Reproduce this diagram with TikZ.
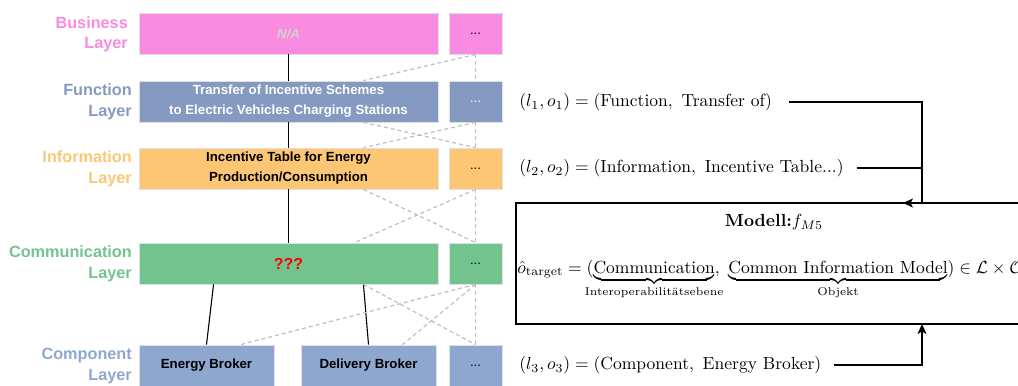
\documentclass[tikz,border=0pt]{standalone}
\usepackage{fontspec}
\newfontfamily\arialfont{Liberation Sans}
\usepackage{amsmath, amssymb, mathtools}
\usetikzlibrary{arrows.meta, positioning, calc}
\definecolor{buscolor}{RGB}{249,139,225}
\definecolor{funcolor}{RGB}{133,154,192}
\definecolor{infcolor}{RGB}{252,198,116}
\definecolor{comcolor}{RGB}{115,195,142}
\definecolor{cmpcolor}{RGB}{142,167,206}
\newcommand{\bracelabel}[1]{\mathclap{\text{\fontsize{6.4}{7}\selectfont #1}}}
\tikzset{
  lbl/.style    = {anchor=east, align=right, inner sep=0pt,
                   font=\arialfont\bfseries\fontsize{16.3}{20.5}\selectfont},
  lbox/.style   = {draw=black!12, line width=0.8bp, inner sep=0pt, minimum height=41bp,
                   align=center, font=\arialfont\bfseries\fontsize{13.3}{20}\selectfont},
  dbox/.style   = {lbox, minimum width=53bp, font=\arialfont\fontsize{13}{15}\selectfont},
  link/.style   = {line width=1.1bp, black},
  dashline/.style = {line width=1.2bp, black!25, dash pattern=on 4bp off 3bp},
  arrow/.style  = {->, >={Stealth[length=10bp, width=9bp, inset=2.5bp]}, line width=1.2bp},
  eq/.style     = {anchor=west, inner sep=0pt, scale=1.76, transform shape,
                   font=\fontsize{10}{12}\selectfont},
}
\begin{document}
\begin{tikzpicture}[x=1bp, y=-1bp]
  \useasboundingbox (0,0) rectangle (1018,385);
  % layer labels
  \node[lbl, buscolor] (busl) at (128,34.5) {Business\\Layer};
  \node[lbl, funcolor] (funl) at (132,102) {Function\\Layer};
  \node[lbl, infcolor] (infl) at (132,169) {Information\\Layer};
  \node[lbl, comcolor] (coml) at (132,264) {Communication\\Layer};
  \node[lbl, cmpcolor] (cmpl) at (132,366) {Component\\Layer};
  % use case boxes
  \node[lbox, fill=buscolor, minimum width=299bp, text=black!18, font=\arialfont\bfseries\itshape\fontsize{13.3}{20}\selectfont] (bus) at (288.5,33.5) {N/A};
  \node[lbox, fill=funcolor, minimum width=299bp, text=white] (fun) at (288.5,101.5) {Transfer of Incentive Schemes\\to Electric Vehicles Charging Stations};
  \node[lbox, fill=infcolor, minimum width=299bp] (inf) at (288.5,168.5) {Incentive Table for Energy\\Production/Consumption};
  \node[lbox, fill=comcolor, minimum width=299bp, text=red, font=\arialfont\bfseries\fontsize{16}{20}\selectfont] (com) at (288.5,263.5) {???};
  \node[lbox, fill=cmpcolor, minimum width=135bp] (ebro) at (206.5,365.5) {Energy Broker};
  \node[lbox, fill=cmpcolor, minimum width=135bp] (dbro) at (368.5,365.5) {Delivery Broker};
  % other use cases
  \node[dbox, fill=buscolor] (busd) at (475.5,33.5) {...};
  \node[dbox, fill=funcolor, text=white] (fund) at (475.5,101.5) {...};
  \node[dbox, fill=infcolor] (infd) at (475.5,168.5) {...};
  \node[dbox, fill=comcolor] (comd) at (475.5,263.5) {...};
  \node[dbox, fill=cmpcolor] (cmpd) at (475.5,365.5) {...};
  % mapping of the use case
  \draw[link] (bus.south) -- (fun.north);
  \draw[link] (fun.south) -- (inf.north);
  \draw[link] (inf.south) -- (com.north);
  \draw[link] ($(com.south west)!0.25!(com.south east)$) -- (ebro.north);
  \draw[link] ($(com.south west)!0.75!(com.south east)$) -- (dbro.north);
  % other mappings
  \foreach \a/\b in {busd/fund, fund/infd, infd/comd, comd/cmpd}
    \draw[dashline] (\a.south) -- (\b.north);
  \draw[dashline] (busd.south) -- ($(fun.north west)!0.75!(fun.north east)$);
  \draw[dashline] ($(fun.south west)!0.75!(fun.south east)$) -- (infd.north);
  \draw[dashline] (fund.south) -- ($(inf.north west)!0.75!(inf.north east)$);
  \draw[dashline] ($(inf.south west)!0.75!(inf.south east)$) -- (comd.north);
  \draw[dashline] (infd.south) -- ($(com.north west)!0.72!(com.north east)$);
  \draw[dashline] ($(com.south west)!0.75!(com.south east)$) -- (cmpd.north);
  \draw[dashline] (comd.south) -- ($(ebro.north west)!0.75!(ebro.north east)$);
  \draw[dashline] (comd.south) -- ($(dbro.north west)!0.75!(dbro.north east)$);
  % inputs
  \node[eq] (in1) at (519,102) {$(l_1,o_1) = (\text{Function},\ \text{Transfer of})$};
  \node[eq] (in2) at (519,168) {$(l_2,o_2) = (\text{Information},\ \text{Incentive Table...})$};
  \node[eq] (in3) at (519,365) {$(l_3,o_3) = (\text{Component},\ \text{Energy Broker})$};
  % model
  \node[draw, line width=1.3bp, minimum width=524bp, minimum height=121bp] (modell) at (778,263.5) {};
  \node[eq, anchor=center] (title) at (774,222) {\textbf{Modell:}$f_{M5}$};
  \node[eq, anchor=base west] (out) at (517,273) {$\hat{o}_{\text{target}} = (\underbrace{\text{Communication}}_{\bracelabel{Interoperabilitätsebene}},\ \underbrace{\text{Common Information Model}}_{\bracelabel{Objekt}}) \in \mathcal{L}\times\mathcal{O}$};
  \coordinate (jtop) at (922,203);
  \coordinate (jin) at (903,203);
  \coordinate (jbot) at (922,324);
  \draw[arrow, shorten <=17bp] (in1.east) -| (jtop) -- (jin);
  \draw[line width=1.2bp, shorten <=13bp] (in2.east) -- (in2.east -| jtop);
  \draw[arrow, shorten <=12bp] (in3.east) -| (jbot);
\end{tikzpicture}
\end{document}
